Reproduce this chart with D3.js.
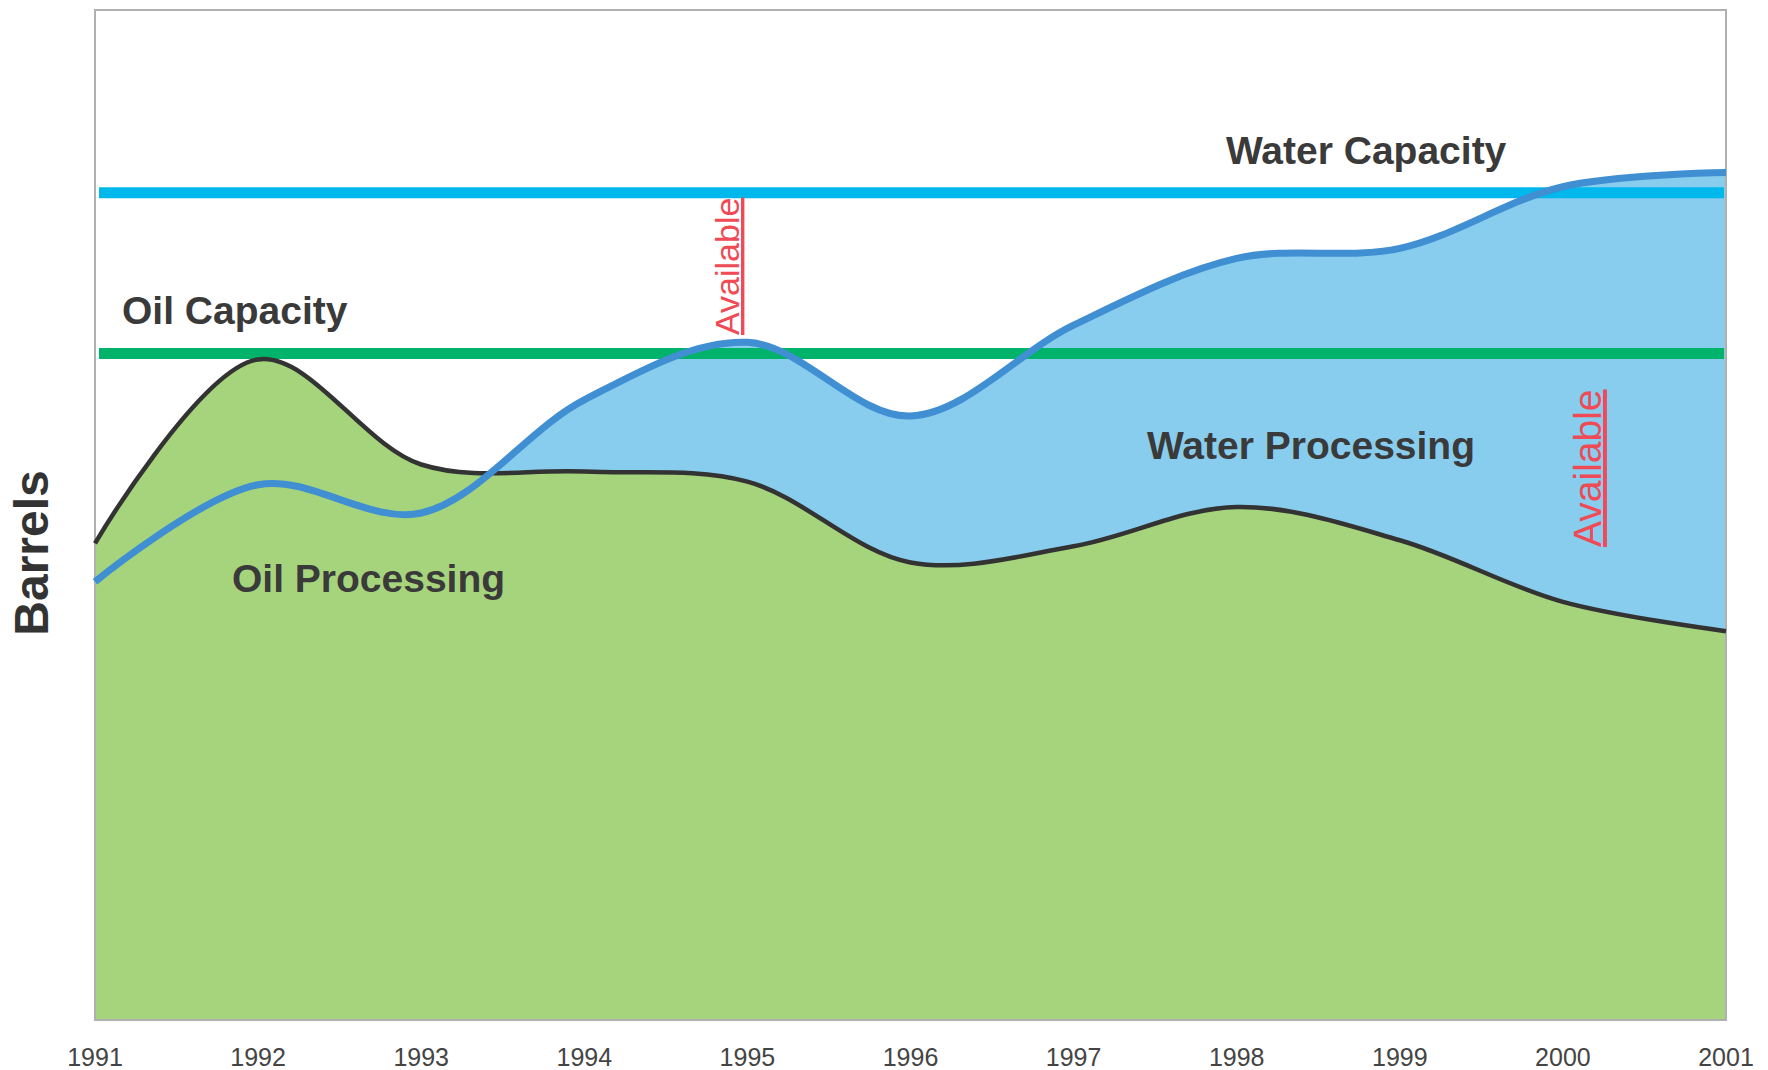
<!DOCTYPE html>
<html>
<head>
<meta charset="utf-8">
<script src="https://cdn.jsdelivr.net/npm/d3@7"></script>
<style>
	body { margin: 0; background: #fff; }
	svg text { font-family: "Liberation Sans", Arial, sans-serif; }
	.tick_label { font-family: "Liberation Sans Narrow", "Arial Narrow", "Liberation Sans", sans-serif; }
</style>
</head>
<body>
<div id="chart"></div>
<script>
var years = [1991, 1992, 1993, 1994, 1995, 1996, 1997, 1998, 1999, 2000, 2001]
var oilProcessing = [47.2, 65.4, 55.0, 54.3, 53.3, 45.3, 46.9, 50.8, 47.5, 41.4, 38.5]
var waterProcessing = [43.4, 53.0, 50.2, 61.4, 67.1, 59.8, 68.8, 75.4, 76.4, 82.5, 83.9]
var capacityNames = ["Water Capacity", "Oil Capacity"]
var capacityValues = [81.9, 66.0]
var tickYears = years

var margin = {top: 10, right: 42, bottom: 50, left: 95},
	width = 1768 - margin.left - margin.right,
	height = 1070 - margin.top - margin.bottom;

var svg = d3.select("#chart")
	.append("svg")
	.attr("width", 1768)
	.attr("height", 1070)
	.append("g")
	.attr("transform", "translate(" + margin.left + "," + margin.top + ")");

var xScale = d3.scaleLinear()
	.domain([1991, 2001])
	.range([0, width]);

var yScale = d3.scaleLinear()
	.domain([0, 100])
	.range([height, 0]);

var data = years.map(function(y, i){
	return {year: y, oil: oilProcessing[i], water: waterProcessing[i]}
})

// smoothed line, like a spreadsheet "smooth" series
var curve = d3.curveCatmullRom.alpha(0.5);

var waterArea = d3.area()
	.curve(curve)
	.x(function(d){ return xScale(d.year) })
	.y0(height)
	.y1(function(d){ return yScale(d.water) });

var oilArea = d3.area()
	.curve(curve)
	.x(function(d){ return xScale(d.year) })
	.y0(height)
	.y1(function(d){ return yScale(d.oil) });

var oilLine = d3.line()
	.curve(curve)
	.x(function(d){ return xScale(d.year) })
	.y(function(d){ return yScale(d.oil) });

var waterLine = d3.line()
	.curve(curve)
	.x(function(d){ return xScale(d.year) })
	.y(function(d){ return yScale(d.water) });

svg.append("path")
	.datum(data)
	.attr("d", waterArea)
	.attr("fill", "#88cdee");

svg.append("path")
	.datum(data)
	.attr("d", oilArea)
	.attr("fill", "#a6d47c");

// frame
svg.append("rect")
	.attr("x", 0)
	.attr("y", 0)
	.attr("width", width)
	.attr("height", height)
	.attr("fill", "none")
	.attr("stroke", "#b0b0b0")
	.attr("stroke-width", 2);

var capColors = ["#00b8eb", "#00b36a"]

svg.selectAll(".cap_line")
	.data(capacityValues)
	.enter().append("line")
	.attr("class", "cap_line")
	.attr("x1", 4)
	.attr("x2", width - 2)
	.attr("y1", function(d){ return yScale(d) })
	.attr("y2", function(d){ return yScale(d) })
	.attr("stroke", function(d, i){ return capColors[i] })
	.attr("stroke-width", 11);

svg.append("path")
	.datum(data)
	.attr("d", oilLine)
	.attr("fill", "none")
	.attr("stroke", "#333333")
	.attr("stroke-width", 4.5);

svg.append("path")
	.datum(data)
	.attr("d", waterLine)
	.attr("fill", "none")
	.attr("stroke", "#3f8fd2")
	.attr("stroke-width", 7);

// x tick labels
svg.selectAll(".tick_label")
	.data(tickYears)
	.enter().append("text")
	.attr("class", "tick_label")
	.attr("x", function(d){ return xScale(d) })
	.attr("y", height + 46)
	.attr("text-anchor", "middle")
	.attr("font-size", "25px")
	.attr("fill", "#444")
	.text(function(d){ return d });

// series labels
var labels = [
	{text: capacityNames[0], x: 1131, y: 154},
	{text: capacityNames[1], x: 27, y: 314},
	{text: "Oil Processing", x: 137, y: 582},
	{text: "Water Processing", x: 1052, y: 449}
]

svg.selectAll(".series_label")
	.data(labels)
	.enter().append("text")
	.attr("class", "series_label")
	.attr("x", function(d){ return d.x })
	.attr("y", function(d){ return d.y })
	.attr("font-size", "39px")
	.attr("font-weight", "bold")
	.attr("fill", "#3a3a3a")
	.text(function(d){ return d.text });

d3.select("svg").append("text")
	.attr("transform", "translate(48,553) rotate(-90)")
	.attr("text-anchor", "middle")
	.attr("font-size", "48px")
	.attr("font-weight", "bold")
	.attr("fill", "#333")
	.text("Barrels");

// "Available" notes
var notes = [
	{x: 644, y: 325, size: 34},
	{x: 1506, y: 537, size: 39}
]

svg.selectAll(".avail")
	.data(notes)
	.enter().append("text")
	.attr("class", "avail")
	.attr("transform", function(d){ return "translate(" + d.x + "," + d.y + ") rotate(-90)" })
	.attr("font-size", function(d){ return d.size + "px" })
	.attr("fill", "#ef4a55")
	.style("text-decoration", "underline")
	.text("Available");
</script>
</body>
</html>
